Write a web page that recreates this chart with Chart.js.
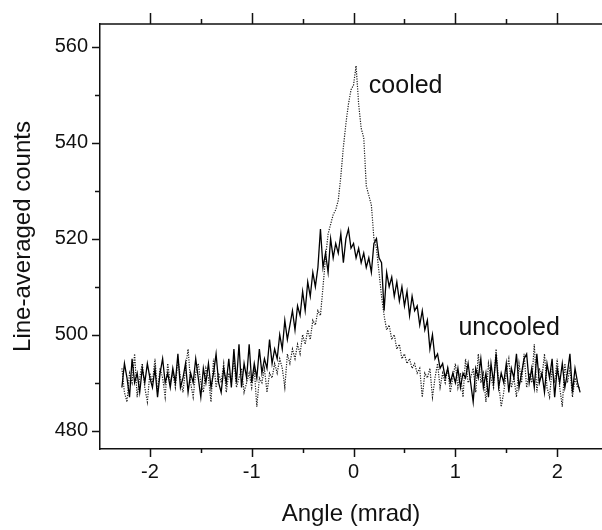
<!DOCTYPE html>
<html>
<head>
<meta charset="utf-8">
<script src="https://cdn.jsdelivr.net/npm/chart.js@4"></script>
<style>
  body { margin: 0; background: #fff; overflow: hidden; }
</style>
</head>
<body>
<canvas id="grafico" width="602" height="530"></canvas>
<script>
// angle grid (mrad)
const angles = [
  -2.275,-2.25,-2.225,-2.2,-2.175,-2.15,-2.125,-2.1,-2.075,-2.05,
  -2.025,-2,-1.975,-1.95,-1.925,-1.9,-1.875,-1.85,-1.825,-1.8,
  -1.775,-1.75,-1.725,-1.7,-1.675,-1.65,-1.625,-1.6,-1.575,-1.55,
  -1.525,-1.5,-1.475,-1.45,-1.425,-1.4,-1.375,-1.35,-1.325,-1.3,
  -1.275,-1.25,-1.225,-1.2,-1.175,-1.15,-1.125,-1.1,-1.075,-1.05,
  -1.025,-1,-0.975,-0.95,-0.925,-0.9,-0.875,-0.85,-0.825,-0.8,
  -0.775,-0.75,-0.725,-0.7,-0.675,-0.65,-0.625,-0.6,-0.575,-0.55,
  -0.525,-0.5,-0.475,-0.45,-0.425,-0.4,-0.375,-0.35,-0.325,-0.3,
  -0.275,-0.25,-0.225,-0.2,-0.175,-0.15,-0.125,-0.1,-0.075,-0.05,
  -0.025,0,0.025,0.05,0.075,0.1,0.125,0.15,0.175,0.2,
  0.225,0.25,0.275,0.3,0.325,0.35,0.375,0.4,0.425,0.45,
  0.475,0.5,0.525,0.55,0.575,0.6,0.625,0.65,0.675,0.7,
  0.725,0.75,0.775,0.8,0.825,0.85,0.875,0.9,0.925,0.95,
  0.975,1,1.025,1.05,1.075,1.1,1.125,1.15,1.175,1.2,
  1.225,1.25,1.275,1.3,1.325,1.35,1.375,1.4,1.425,1.45,
  1.475,1.5,1.525,1.55,1.575,1.6,1.625,1.65,1.675,1.7,
  1.725,1.75,1.775,1.8,1.825,1.85,1.875,1.9,1.925,1.95,
  1.975,2,2.025,2.05,2.075,2.1,2.125,2.15,2.175,2.2,
  2.225
];

// solid line
const uncooled = [
  489,494,491,487,495,490,492,488,493,490,
  494,491,489,493,487,492,495,490,492,489,
  493,490,496,489,491,494,488,492,490,495,
  491,487,493,490,494,489,492,496,490,488,
  493,490,495,489,497,490,498,489,494,491,
  498,490,494,491,497,492,495,493,499,494,
  497,495,500,497,503,499,502,505,501,506,
  504,509,505,511,508,513,510,514,522,514,
  517,513,520,516,519,517,521,515,520,522,
  518,519,516,518,515,517,514,516,513,519,
  520,516,515,505,513,510,512,508,511,507,
  510,506,509,504,508,505,506,502,505,501,
  503,497,500,495,496,493,494,491,493,490,
  492,490,493,489,492,491,494,490,486,493,
  491,495,489,492,487,494,490,496,489,492,
  490,494,488,493,491,496,489,492,495,496,
  490,493,489,496,490,492,488,494,491,495,
  487,493,490,494,489,492,496,488,493,490,
  488
];

// dotted line
const cooled = [
  493,488,486,492,490,496,487,491,494,489,
  486,492,490,495,488,493,491,487,494,490,
  492,489,495,491,488,493,497,490,487,492,
  494,490,488,493,491,486,495,489,492,490,
  494,488,492,490,495,489,491,493,488,490,
  492,489,493,485,491,490,493,488,492,491,
  494,492,495,493,489,496,494,497,495,498,
  496,500,498,501,499,503,502,505,504,510,
  516,521,523,525,526,528,533,539,544,548,
  551,552,556,548,543,541,531,529,527,520,
  518,513,508,504,501,502,499,500,497,498,
  495,496,494,495,493,494,492,493,487,492,
  491,493,487,491,494,489,492,490,493,488,
  491,494,489,492,487,495,490,491,493,488,
  496,490,492,486,494,491,489,497,490,485,
  488,492,495,489,491,487,494,490,496,489,
  492,490,498,488,493,491,496,489,487,493,
  490,495,489,485,494,490,493,487,491,489,
  489
];

const xTicks = [-2, -1.5, -1, -0.5, 0, 0.5, 1, 1.5, 2];
const yTicks = [480, 490, 500, 510, 520, 530, 540, 550, 560];

const labelText = ['cooled', 'uncooled'];
const labelX = [0.15, 1.03];
const labelY = [551.7, 501.3];

const FONT = "'Liberation Sans', Arial, sans-serif";

const toXY = (ys) => angles.map((a, i) => ({ x: a, y: ys[i] }));

// ticks on the outside, top frame line, text labels
const frameTicks = {
  id: 'frameTicks',
  afterDraw(chart) {
    const { ctx, chartArea: a, scales: { x, y } } = chart;
    ctx.save();
    ctx.strokeStyle = '#111';
    ctx.lineWidth = 1.5;
    ctx.beginPath();
    ctx.moveTo(a.left - 1, a.top);
    ctx.lineTo(a.right, a.top);
    xTicks.forEach(v => {
      const px = Math.round(x.getPixelForValue(v)) + 0.5;
      const major = Number.isInteger(v);
      ctx.moveTo(px, a.bottom);
      ctx.lineTo(px, a.bottom + (major ? 8 : 4));
      ctx.moveTo(px, a.top);
      ctx.lineTo(px, a.top - (major ? 11 : 5));
    });
    yTicks.forEach(v => {
      const py = Math.round(y.getPixelForValue(v)) + 0.5;
      const major = v % 20 === 0;
      ctx.moveTo(a.left, py);
      ctx.lineTo(a.left - (major ? 8 : 5), py);
    });
    ctx.stroke();

    ctx.fillStyle = '#111';
    ctx.font = '25px ' + FONT;
    ctx.textAlign = 'left';
    ctx.textBaseline = 'middle';
    labelText.forEach((t, i) => {
      ctx.fillText(t, x.getPixelForValue(labelX[i]), y.getPixelForValue(labelY[i]));
    });
    ctx.restore();
  }
};

const Grafico = document.getElementById('grafico');
const myChart = new Chart(Grafico, {
  type: 'line',
  data: {
    datasets: [
      {
        label: 'uncooled',
        data: toXY(uncooled),
        borderColor: '#000',
        borderWidth: 1.3,
        pointRadius: 0,
        tension: 0
      },
      {
        label: 'cooled',
        data: toXY(cooled),
        borderColor: '#1a1a1a',
        borderWidth: 1.2,
        borderDash: [1.2, 1.3],
        pointRadius: 0,
        tension: 0
      }
    ]
  },
  options: {
    responsive: false,
    animation: false,
    layout: { padding: { top: 12, right: 0, left: 0, bottom: 0 } },
    plugins: {
      legend: { display: false },
      tooltip: { enabled: false }
    },
    scales: {
      x: {
        type: 'linear',
        min: -2.49,
        max: 2.44,
        afterBuildTicks: (s) => { s.ticks = xTicks.map(v => ({ value: v })); },
        afterFit: (s) => { s.height = 81; },
        grid: { display: false, drawTicks: false },
        border: { display: true, color: '#111', width: 1.5 },
        ticks: {
          autoSkip: false,
          maxRotation: 0,
          padding: 11,
          color: '#111',
          font: { family: FONT, size: 20 },
          callback: (v) => Number.isInteger(v) ? String(v) : ''
        },
        title: {
          display: true,
          text: 'Angle (mrad)',
          color: '#111',
          padding: { top: 0, bottom: 1 },
          font: { family: FONT, size: 24 }
        }
      },
      y: {
        min: 476.2,
        max: 564.7,
        afterBuildTicks: (s) => { s.ticks = yTicks.map(v => ({ value: v })); },
        afterFit: (s) => { s.width = 100; },
        grid: { display: false, drawTicks: false },
        border: { display: true, color: '#111', width: 1.5 },
        ticks: {
          autoSkip: false,
          padding: 12,
          color: '#111',
          font: { family: FONT, size: 20 },
          callback: (v) => v % 20 === 0 ? String(v) : ''
        },
        title: {
          display: true,
          text: 'Line-averaged counts',
          color: '#111',
          padding: { top: 9, bottom: 0 },
          font: { family: FONT, size: 24 }
        }
      }
    }
  },
  plugins: [frameTicks]
});
</script>
</body>
</html>
